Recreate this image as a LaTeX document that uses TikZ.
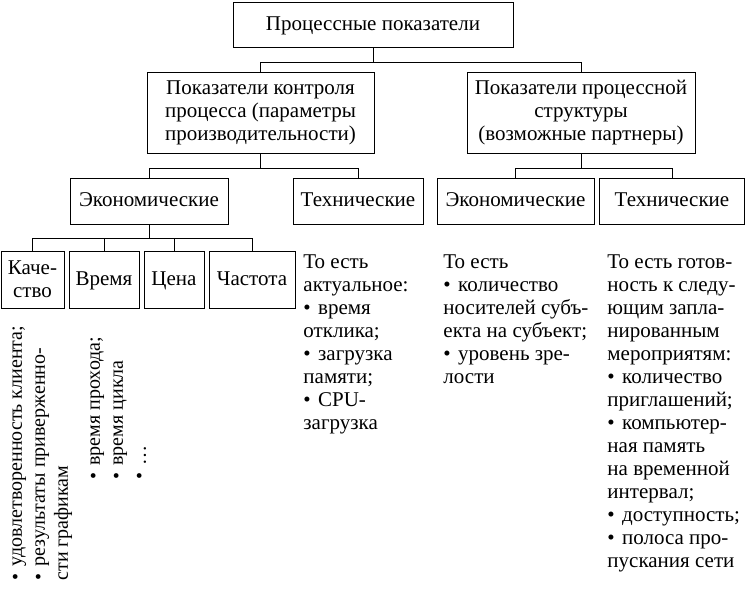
\documentclass[tikz,border=0pt]{standalone}
\usepackage{fontspec}
\setmainfont{Liberation Serif}
\newcommand\mybul{•\hspace{0.35em}}
\begin{document}
\begin{tikzpicture}[x=1pt,y=-1pt,
  font=\fontsize{21}{23}\selectfont,
  line width=0.9pt,
  box/.style 2 args={draw, inner sep=0pt, align=center, minimum width=#1, minimum height=#2},
  one/.style={text height=14.5pt, text depth=2.5pt},
  txt/.style={inner sep=0pt, align=left, anchor=north west},
  rtxt/.style={inner sep=0pt, align=left, anchor=north west, rotate=90, font=\fontsize{20}{23}\selectfont}]
\useasboundingbox (0,0) rectangle (745,609);
% level 1
\node[box={280pt}{45pt}, one] (top) at (373,24.5) {Процессные показатели};
% level 2
\node[box={227pt}{81pt}] (l2a) at (260.5,112.5) {Показатели контроля\\процесса (параметры\\производительности)};
\node[box={228pt}{81pt}] (l2b) at (581,112.5) {Показатели процессной\\структуры\\(возможные партнеры)};
% level 3
\node[box={158pt}{46pt}, one] (e1) at (149,201) {Экономические};
\node[box={130pt}{46pt}, one] (t1) at (358,201) {Технические};
\node[box={157pt}{46pt}, one] (e2) at (515.5,201) {Экономические};
\node[box={145pt}{46pt}, one] (t2) at (672,201) {Технические};
% level 4
\node[box={63pt}{57pt}] (q) at (32.5,279.5) {Каче-\\ство};
\node[box={70pt}{57pt}, one] (v) at (104,279.5) {Время};
\node[box={60pt}{57pt}, one] (c) at (174,279.5) {Цена};
\node[box={86pt}{57pt}, one] (f) at (252,279.5) {Частота};
% connectors
\draw (top.south) -- ++(0,15) coordinate (b1);
\draw (l2a.north) |- (b1) -| (l2b.north);
\draw (l2a.south) -- ++(0,15) coordinate (b2);
\draw (e1.north) |- (b2) -| (t1.north);
\draw (l2b.south) -- ++(0,15) coordinate (b3);
\draw (e2.north) |- (b3) -| (t2.north);
\draw (e1.south) -- ++(0,14) coordinate (b4);
\draw (q.north) |- (b4) -| (f.north);
\draw (v.north) |- (b4);
\draw (c.north) |- (b4);
% texts
\node[txt] (tx1) at (303,254) {То есть\\актуальное:\\\mybul время\\отклика;\\\mybul загрузка\\памяти;\\\mybul CPU-\\загрузка};
\node[txt] (tx2) at (443,254) {То есть\\\mybul количество\\носителей субъ-\\екта на субъект;\\\mybul уровень зре-\\лости};
\node[txt] (tx3) at (607,254) {То есть готов-\\ность к следу-\\ющим запла-\\нированным\\мероприятям:\\\mybul количество\\приглашений;\\\mybul компьютер-\\ная память\\на временной\\интервал;\\\mybul доступность;\\\mybul полоса про-\\пускания сети};
\node[rtxt] (r1) at (12,581) {\mybul удовлетворенность клиента;\\\mybul результаты приверженно-\\сти графикам};
\node[rtxt] (r2) at (90,480) {\mybul время прохода;\\\mybul время цикла\\\mybul …};
\end{tikzpicture}
\end{document}
